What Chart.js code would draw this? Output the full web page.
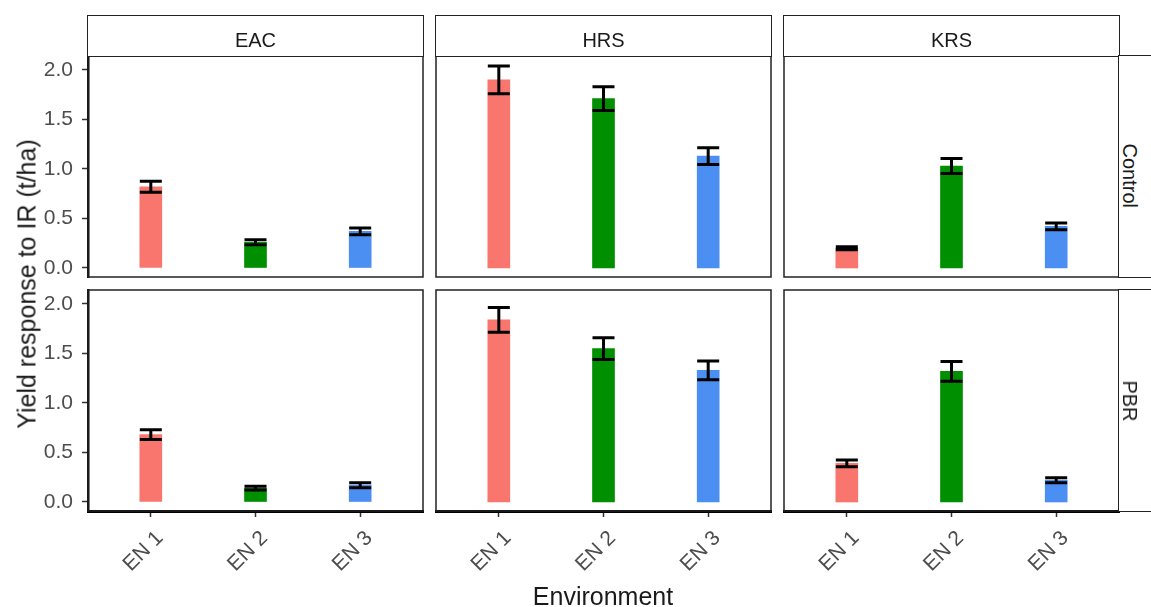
<!DOCTYPE html>
<html>
<head>
<meta charset="utf-8">
<script src="https://cdn.jsdelivr.net/npm/chart.js@4.4.1/dist/chart.umd.min.js"></script>
<style>
  body { margin: 0; background: #fff; }
  #wrap { position: relative; width: 1151px; height: 607px; overflow: hidden; background: #fff;
          font-family: 'Liberation Sans', Arial, sans-serif; }
  .panel { position: absolute; }
  .strip { position: absolute; box-sizing: border-box; border: 1.5px solid #222; background: #fff; }
  .strip span { position: absolute; left: 0; right: 0; text-align: center; font-size: 20px;
                line-height: 20px; color: #1a1a1a; }
  .rstrip span { position: absolute; font-size: 20px; line-height: 20px; color: #1a1a1a;
                 white-space: nowrap; transform: translate(-50%, -50%) rotate(90deg); }
  .title { position: absolute; font-size: 25px; line-height: 25px; color: #1a1a1a; white-space: nowrap; }
</style>
</head>
<body>
<div id="wrap"></div>
<script>
// facets
const systems = ['EAC', 'HRS', 'KRS'];
const treatments = ['Control', 'PBR'];
const envLabels = ['EN 1', 'EN 2', 'EN 3'];
const envPos = [1, 2, 3];
const yTicks = [0, 0.5, 1.0, 1.5, 2.0];
const envColors = ['#F8766D', '#008F00', '#4C8FF3'];

// mean yield response (t/ha) and error, per system / treatment
const eacControl = [0.82, 0.26, 0.37];
const eacControlErr = [0.055, 0.025, 0.035];
const hrsControl = [1.90, 1.71, 1.13];
const hrsControlErr = [0.14, 0.12, 0.085];
const krsControl = [0.20, 1.03, 0.42];
const krsControlErr = [0.015, 0.075, 0.035];
const eacPbr = [0.68, 0.14, 0.17];
const eacPbrErr = [0.05, 0.02, 0.025];
const hrsPbr = [1.84, 1.55, 1.33];
const hrsPbrErr = [0.125, 0.11, 0.095];
const krsPbr = [0.39, 1.32, 0.22];
const krsPbrErr = [0.035, 0.10, 0.025];

const means = [[eacControl, hrsControl, krsControl], [eacPbr, hrsPbr, krsPbr]];
const errs = [[eacControlErr, hrsControlErr, krsControlErr], [eacPbrErr, hrsPbrErr, krsPbrErr]];

// layout of the panel boxes
const colLeft = [88, 436, 784];
const rowTop = [56, 290];
const boxW = 335, boxH = 221;

Chart.defaults.font.family = "'Liberation Sans', Arial, sans-serif";
Chart.defaults.animation = false;

const wrap = document.getElementById('wrap');

// draws panel border + error bars
const facetPlugin = {
  id: 'facet',
  afterDatasetsDraw(chart) {
    const ctx = chart.ctx;
    const a = chart.chartArea;
    const xs = chart.scales.x, ys = chart.scales.y;
    const m = chart.data.datasets[0].data;
    const e = chart.options.plugins.facet.err;
    ctx.save();
    ctx.strokeStyle = '#000';
    ctx.lineWidth = 3;
    m.forEach((p, i) => {
      const x = xs.getPixelForValue(p.x);
      const yt = ys.getPixelForValue(p.y + e[i]);
      const yb = ys.getPixelForValue(p.y - e[i]);
      ctx.beginPath();
      ctx.moveTo(x, yt); ctx.lineTo(x, yb);
      ctx.moveTo(x - 11, yt); ctx.lineTo(x + 11, yt);
      ctx.moveTo(x - 11, yb); ctx.lineTo(x + 11, yb);
      ctx.stroke();
    });
    ctx.strokeStyle = '#222';
    ctx.lineWidth = 1.5;
    ctx.strokeRect(a.left, a.top, a.right - a.left, a.bottom - a.top);
    ctx.restore();
  }
};

treatments.forEach((tr, r) => {
  systems.forEach((sys, c) => {
    const showY = c === 0;
    const showX = r === 1;
    const padL = showY ? 88 : 3;
    const padB = showX ? 80 : 3;
    const div = document.createElement('div');
    div.className = 'panel';
    div.style.left = (colLeft[c] - padL) + 'px';
    div.style.top = (rowTop[r] - 3) + 'px';
    div.style.width = (boxW + padL + 3) + 'px';
    div.style.height = (boxH + 3 + padB) + 'px';
    const cv = document.createElement('canvas');
    div.appendChild(cv);
    wrap.appendChild(div);

    new Chart(cv, {
      type: 'bar',
      data: {
        datasets: [{
          data: envPos.map((x, i) => ({ x: x, y: means[r][c][i] })),
          backgroundColor: envColors,
          barThickness: 22
        }]
      },
      options: {
        responsive: true,
        maintainAspectRatio: false,
        layout: { padding: { left: showY ? 0 : 3, top: 3, right: 3, bottom: showX ? 0 : 3 } },
        plugins: { legend: { display: false }, tooltip: { enabled: false }, facet: { err: errs[r][c] } },
        scales: {
          x: {
            type: 'linear', min: 0.4, max: 3.6, display: showX, offset: false,
            afterBuildTicks: s => { s.ticks = envPos.map(v => ({ value: v })); },
            afterFit: s => { s.height = showX ? 80 : 0; s.paddingLeft = 0; s.paddingRight = 0; },
            grid: { offset: false, drawOnChartArea: false, tickLength: 6, tickColor: '#333', tickWidth: 1.5 },
            border: { display: true, color: '#000', width: 3 },
            ticks: {
              minRotation: 45, maxRotation: 45, autoSkip: false, labelOffset: 9,
              color: '#4D4D4D', font: { size: 21 }, padding: 9,
              callback: v => envLabels[envPos.indexOf(v)]
            }
          },
          y: {
            min: -0.091, max: 2.141, display: showY,
            afterBuildTicks: s => { s.ticks = yTicks.map(v => ({ value: v })); },
            afterFit: s => { s.width = showY ? 88 : 0; s.paddingTop = 0; s.paddingBottom = 0; },
            grid: { drawOnChartArea: false, tickLength: 6, tickColor: '#333', tickWidth: 1.5 },
            border: { display: true, color: '#000', width: 2.5 },
            ticks: { color: '#4D4D4D', font: { size: 21 }, padding: 9, callback: v => v.toFixed(1) }
          }
        }
      },
      plugins: [facetPlugin]
    });
  });
});

// top strips
systems.forEach((sys, c) => {
  const s = document.createElement('div');
  s.className = 'strip';
  s.style.left = (colLeft[c] - 0.75) + 'px';
  s.style.top = '15px';
  s.style.width = (boxW + 1.5) + 'px';
  s.style.height = '42px';
  s.innerHTML = '<span style="top:14px">' + sys + '</span>';
  wrap.appendChild(s);
});

// right strips
treatments.forEach((tr, r) => {
  const s = document.createElement('div');
  s.className = 'strip rstrip';
  s.style.left = (colLeft[2] + boxW - 0.75) + 'px';
  s.style.top = (rowTop[r] - 0.75) + 'px';
  s.style.width = '60px';
  s.style.height = (boxH + 1.5) + 'px';
  s.innerHTML = '<span style="left:11px;top:' + (boxH / 2) + 'px">' + tr + '</span>';
  wrap.appendChild(s);
});

// axis titles
const yt = document.createElement('div');
yt.className = 'title';
yt.textContent = 'Yield response to IR (t/ha)';
yt.style.left = '27px';
yt.style.top = '284px';
yt.style.transform = 'translate(-50%, -50%) rotate(-90deg)';
wrap.appendChild(yt);

const xt = document.createElement('div');
xt.className = 'title';
xt.textContent = 'Environment';
xt.style.left = '603px';
xt.style.top = '584px';
xt.style.transform = 'translateX(-50%)';
wrap.appendChild(xt);
</script>
</body>
</html>
